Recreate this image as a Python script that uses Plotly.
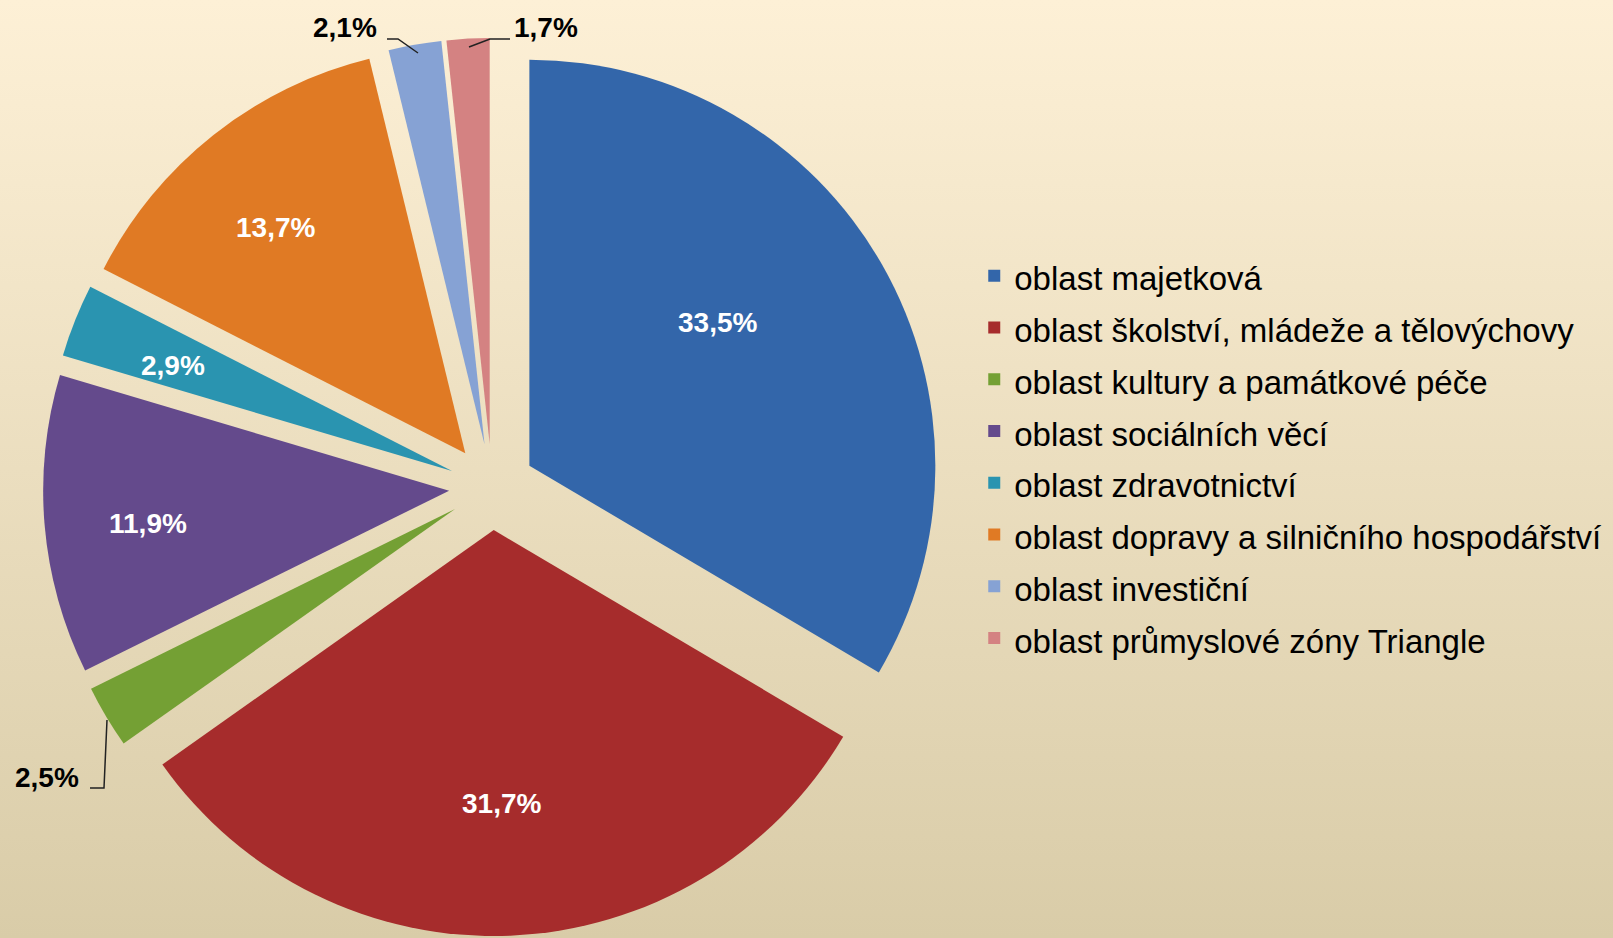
import base64
import plotly.graph_objects as go

# ── data ─────────────────────────────────────────────
labels = [
    "oblast majetková",
    "oblast školství, mládeže a tělovýchovy",
    "oblast kultury a památkové péče",
    "oblast sociálních věcí",
    "oblast zdravotnictví",
    "oblast dopravy a silničního hospodářství",
    "oblast investiční",
    "oblast průmyslové zóny Triangle",
]
shares = [33.5, 31.7, 2.5, 11.9, 2.9, 13.7, 2.1, 1.7]
colors = ["#3366AA", "#A62C2C", "#74A034", "#644A8C",
          "#2A94B0", "#E07A24", "#86A2D4", "#D48282"]

W, H = 1613, 938

# label placement (pixel centres), white text inside, black outside
label_pos = [(717, 322), (501, 803), (47, 777), (148, 523),
             (173, 365), (275, 227), (345, 28), (546, 28)]
label_inside = [True, True, False, True, True, True, False, False]
# elbow leader lines for the outside labels
leaders = {
    2: [(90, 788), (104, 788), (107, 720)],
    6: [(387, 39), (398, 39), (418, 53)],
    7: [(510, 39), (490, 39), (469, 47)],
}

# background gradient (cream -> tan)
svg = (
    f'<svg xmlns="http://www.w3.org/2000/svg" width="{W}" height="{H}" preserveAspectRatio="none">'
    '<defs><linearGradient id="g" x1="0" y1="0" x2="0" y2="1">'
    '<stop offset="0" stop-color="#FDF0D6"/>'
    '<stop offset="1" stop-color="#D9CCA8"/>'
    '</linearGradient></defs>'
    f'<rect width="{W}" height="{H}" fill="url(#g)"/></svg>'
)
bg_src = "data:image/svg+xml;base64," + base64.b64encode(svg.encode()).decode()

# legend font is big to get the row spacing, the label itself is smaller
legend_names = [f"<span style='font-size:33px'>{l}</span>" for l in labels]

fig = go.Figure(go.Pie(
    labels=legend_names,
    values=shares,
    sort=False,
    direction="clockwise",
    rotation=0,
    pull=0.106,
    marker=dict(colors=colors, line=dict(width=0)),
    textinfo="none",
    domain=dict(x=[43 / W, 941 / W], y=[0.002, 0.9595]),
    hovertext=labels,
    hoverinfo="text+percent",
))


def px(x, y):
    return x / W, 1 - y / H


annotations = []
shapes = []
for i, (v, (lx, ly), ins) in enumerate(zip(shares, label_pos, label_inside)):
    ax, ay = px(lx, ly)
    annotations.append(dict(
        text=f"{v:.1f}".replace(".", ",") + "%",
        x=ax, y=ay, xref="paper", yref="paper", showarrow=False,
        xanchor="center", yanchor="middle",
        font=dict(family="Arial, Liberation Sans", size=28, weight="bold",
                  color="white" if ins else "black"),
    ))
    if i in leaders:
        path = "M " + " L ".join("{},{}".format(*px(x, y)) for x, y in leaders[i])
        shapes.append(dict(type="path", path=path, xref="paper", yref="paper",
                           line=dict(color="#222222", width=1.5)))

fig.update_layout(
    width=W, height=H,
    margin=dict(l=0, r=0, t=0, b=0),
    paper_bgcolor="#F5E8CC",
    font=dict(family="Arial, Liberation Sans", color="black"),
    showlegend=True,
    legend=dict(
        x=0.604, y=0.513, xanchor="left", yanchor="middle",
        bgcolor="rgba(0,0,0,0)",
        font=dict(size=37.5, color="black"),
    ),
    annotations=annotations,
    shapes=shapes,
    images=[dict(source=bg_src, xref="paper", yref="paper", x=0, y=1,
                 sizex=1, sizey=1, sizing="stretch", layer="below")],
)

fig.write_html("out.html", config={"displayModeBar": False},
               post_script="document.body.style.margin='0';")
